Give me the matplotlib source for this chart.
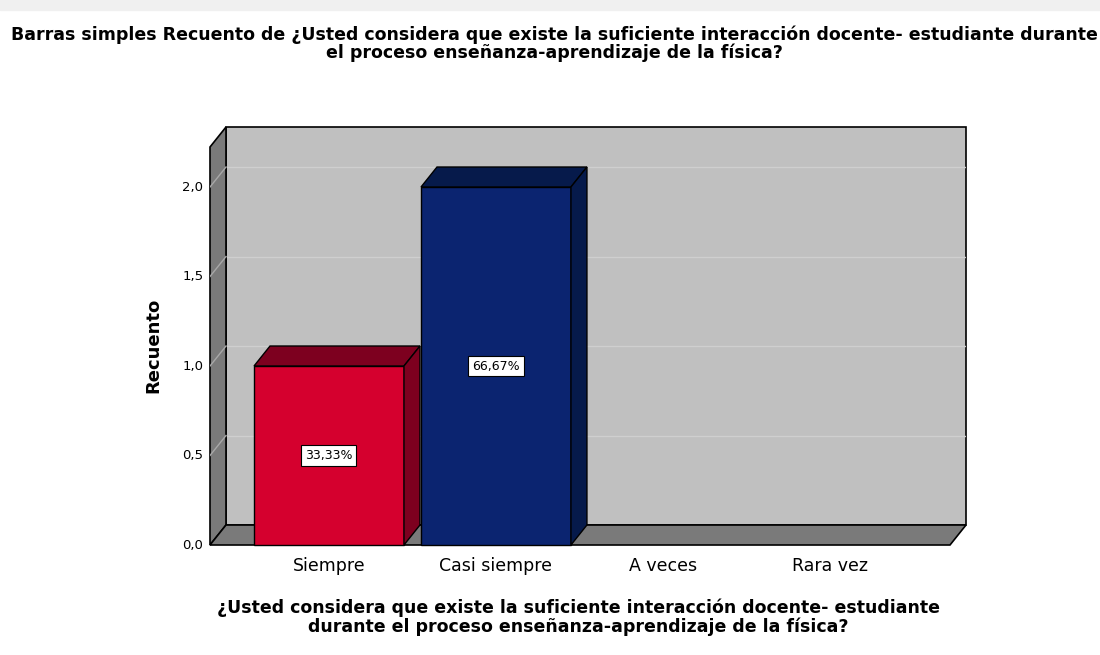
import matplotlib.pyplot as plt
from matplotlib.patches import Polygon, Rectangle

plt.rcParams['font.family'] = ['DejaVu Sans']

# datos
categorias = ['Siempre', 'Casi siempre', 'A veces', 'Rara vez']
recuento = [1, 2, 0, 0]
porcentajes = ['33,33%', '66,67%', '', '']
ticks_y = [0.0, 0.5, 1.0, 1.5, 2.0]
colores = {'Siempre': ('#d5002e', '#7d001f'), 'Casi siempre': ('#0b2470', '#061a4b')}

titulo = ('Barras simples Recuento de ¿Usted considera que existe la suficiente interacción docente- estudiante durante\n'
          'el proceso enseñanza-aprendizaje de la física?')
etiqueta_x = ('¿Usted considera que existe la suficiente interacción docente- estudiante\n'
              'durante el proceso enseñanza-aprendizaje de la física?')

# geometria del efecto 3D (en unidades de datos)
x0, x1 = -0.7126, 3.719
y_top = 2.2235
dx, dy = 0.0958, 0.1117
ancho = 0.898

fig = plt.figure(figsize=(11, 6.55), dpi=100)
fig.patches.append(Rectangle((0, 0.985), 1, 0.015, transform=fig.transFigure, color='#f0f0f0', zorder=0))

ax = fig.add_axes([210 / 1100, 110 / 655, 756 / 1100, 418 / 655])
ax.set_xlim(x0, x1 + dx)
ax.set_ylim(0, y_top + dy)
ax.axis('off')

# paredes
ax.add_patch(Polygon([(x0 + dx, dy), (x1 + dx, dy), (x1 + dx, y_top + dy), (x0 + dx, y_top + dy)],
                     closed=True, fc='#c0c0c0', ec='black', lw=1.2, zorder=1, clip_on=False))
ax.add_patch(Polygon([(x0, 0), (x0 + dx, dy), (x0 + dx, y_top + dy), (x0, y_top)],
                     closed=True, fc='#7a7a7a', ec='black', lw=1.2, zorder=2, clip_on=False))
ax.add_patch(Polygon([(x0, 0), (x1, 0), (x1 + dx, dy), (x0 + dx, dy)],
                     closed=True, fc='#7a7a7a', ec='black', lw=1.2, zorder=2, clip_on=False))

# rejilla
for t in ticks_y[1:]:
    ax.plot([x0 + dx, x1 + dx], [t + dy, t + dy], color='#cfcfcf', lw=1, zorder=1.5)
    ax.plot([x0, x0 + dx], [t, t + dy], color='#a8a8a8', lw=1, zorder=2.5)
for t in ticks_y:
    ax.text(x0 - 0.04, t, f'{t:.1f}'.replace('.', ','), ha='right', va='center', fontsize=9.5)

# barras
for i, (cat, v, p) in enumerate(zip(categorias, recuento, porcentajes)):
    if v <= 0:
        continue
    frente, oscuro = colores[cat]
    l, r = i - ancho / 2, i + ancho / 2
    ax.add_patch(Polygon([(l, 0), (r, 0), (r, v), (l, v)], closed=True,
                         fc=frente, ec='black', lw=1, zorder=5, clip_on=False))
    ax.add_patch(Polygon([(l, v), (r, v), (r + dx, v + dy), (l + dx, v + dy)], closed=True,
                         fc=oscuro, ec='black', lw=1, zorder=5))
    ax.add_patch(Polygon([(r, 0), (r + dx, dy), (r + dx, v + dy), (r, v)], closed=True,
                         fc=oscuro, ec='black', lw=1, zorder=5, clip_on=False))
    ax.text(i, v / 2, p, ha='center', va='center', fontsize=9, zorder=6,
            bbox=dict(boxstyle='square,pad=0.3', fc='white', ec='black', lw=0.8))

for i, cat in enumerate(categorias):
    ax.text(i, -0.115, cat, ha='center', va='center', fontsize=12.5)

fig.text(554 / 1100, 1 - 44 / 655, titulo, ha='center', va='center', fontsize=12.5,
         fontweight='bold', linespacing=0.95)
fig.text(578 / 1100, 1 - 617 / 655, etiqueta_x, ha='center', va='center',
         fontsize=12.5, fontweight='bold', linespacing=1.0)
fig.text(153 / 1100, 1 - 345 / 655, 'Recuento', ha='center', va='center', rotation=90,
         fontsize=13, fontweight='bold')

fig.savefig('out.png', dpi=100, facecolor='white')
